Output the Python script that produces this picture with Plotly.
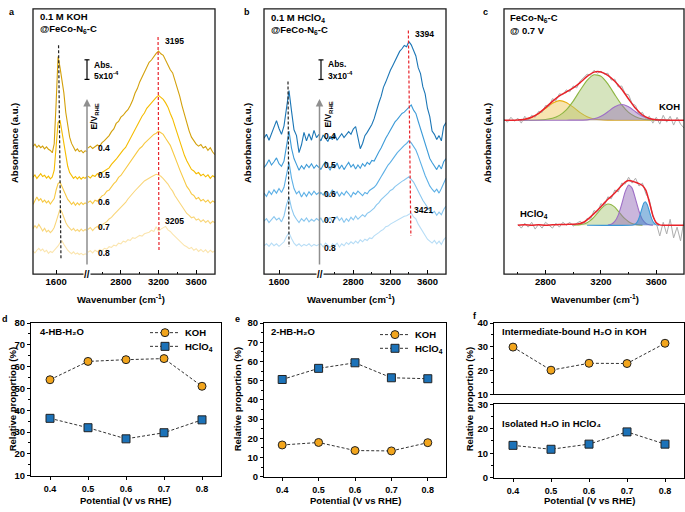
import plotly.graph_objects as go

W, H = 685, 512
FONT = "Liberation Sans, Arial, sans-serif"


def px(x):
    return x / W


def py(y):
    return 1 - y / H


# ------------------------------------------------------------------ data
POTENTIAL_LABELS = ["0.4", "0.5", "0.6", "0.7", "0.8"]

# panel a : 0.1 M KOH (absorbance, units of 1e-4, baseline removed)
A_LEFT_WN = list(range(1360, 1921, 20))
A_RIGHT_WN = list(range(2450, 3801, 25))
A_LEFT = {
    "0.4": [0.8, 1.4, 0.6, 1.1, 0.5, 0.9, 0.2, 0.7, 0.1, -0.2, -0.8, 1.5, 12.0, 23.8, 21.0, 17.5, 14.5, 9.5, 5.8, 3.2, 1.6, 0.6, -0.3, 0.2, -0.5, -0.2, -0.8, -0.3, -0.5],
    "0.5": [0.0, 0.6, -0.3, 0.4, 0.9, 0.2, 0.5, -0.2, 0.3, -0.4, 0.1, 1.8, 8.5, 14.0, 14.6, 11.5, 8.2, 5.2, 2.8, 1.2, 0.4, -0.3, 0.2, -0.4, 0.1, -0.5, 0.0, -0.3, 0.2],
    "0.6": [-0.3, 0.8, 1.6, 0.7, 1.2, 0.3, 0.8, 0.1, 0.6, -0.2, 0.4, 1.2, 3.4, 5.0, 5.4, 4.3, 3.2, 2.0, 1.0, 0.4, -0.3, 0.3, -0.5, 0.1, -0.4, 0.2, -0.3, 0.1, -0.2],
    "0.7": [0.2, 1.0, 0.4, 1.3, 0.5, -0.4, 0.3, -0.6, -0.2, -0.8, -0.3, 0.5, 2.0, 3.8, 5.2, 4.4, 2.9, 1.8, 0.9, 0.4, -0.2, 0.3, -0.4, 0.0, -0.5, 0.1, -0.4, 0.0, -0.3],
    "0.8": [0.3, -0.2, 0.5, 1.0, 0.4, 0.8, 0.1, 0.5, -0.3, 0.2, -0.1, 0.4, 0.9, 1.6, 2.4, 2.9, 2.0, 1.2, 0.5, 0.0, -0.4, 0.1, -0.5, -0.2, -0.6, -0.3, -0.7, -0.4, -0.6],
}
A_RIGHT = {
    "0.4": [0.4, 0.9, 0.3, 0.8, 1.2, 0.9, 1.8, 2.3, 3.0, 3.6, 4.6, 5.3, 6.7, 7.2, 8.3, 8.8, 9.6, 10.2, 11.3, 12.6,
            14.4, 15.6, 17.3, 18.5, 19.6, 21.0, 22.3, 22.9, 23.8, 24.6, 25.2, 24.5, 24.1, 22.8, 21.9, 20.4, 19.6, 17.8, 16.1, 13.7,
            11.2, 9.0, 6.7, 4.8, 3.2, 2.3, 1.4, 0.9, 1.3, 0.4, 0.8, -0.2, 0.5, -0.6, -1.3],
    "0.5": [0.3, -0.2, 0.5, 0.2, 0.9, 0.6, 1.2, 1.6, 2.0, 2.4, 3.3, 3.9, 4.6, 5.4, 6.3, 7.0, 7.6, 8.7, 9.8, 11.0,
            12.1, 13.3, 14.6, 15.6, 16.4, 17.6, 18.3, 19.1, 19.6, 20.4, 20.9, 20.3, 19.9, 19.0, 17.9, 16.3, 14.9, 13.0, 11.1, 9.2,
            7.4, 5.6, 4.2, 3.1, 2.0, 1.6, 0.9, 1.2, 0.4, 0.8, 0.1, 0.6, -0.3, 0.4, 0.0],
    "0.6": [0.2, 0.6, -0.1, 0.8, 0.5, 1.3, 1.9, 2.2, 3.1, 3.4, 4.3, 5.0, 5.6, 6.6, 7.1, 8.0, 8.9, 9.6, 10.8, 11.5,
            12.3, 13.2, 14.0, 14.5, 15.3, 15.9, 16.6, 17.0, 17.6, 17.9, 18.4, 18.0, 17.6, 16.6, 15.7, 14.8, 13.3, 11.9, 10.2, 8.6,
            7.0, 5.7, 4.3, 3.5, 2.4, 2.0, 1.1, 1.5, 0.6, 1.0, 0.3, 0.8, 0.0, 0.6, 0.2],
    "0.7": [0.0, 0.5, -0.3, 0.4, 0.8, 0.3, 1.2, 1.6, 2.0, 2.7, 3.1, 3.8, 4.4, 4.9, 5.7, 6.3, 6.9, 7.8, 8.4, 9.2,
            9.9, 10.6, 11.3, 11.8, 12.4, 12.8, 13.3, 13.5, 13.8, 14.1, 13.9, 13.6, 13.0, 12.3, 11.6, 10.6, 9.8, 8.6, 7.7, 6.5,
            5.6, 5.0, 4.1, 3.6, 3.0, 3.2, 2.4, 2.7, 2.0, 2.5, 1.8, 2.3, 1.5, 2.1, 1.7],
    "0.8": [0.0, 0.4, -0.2, 0.5, 0.1, 0.7, 0.4, 1.0, 0.8, 1.4, 1.2, 1.8, 1.6, 2.3, 2.1, 2.8, 2.6, 3.2, 3.0, 3.7,
            3.5, 4.0, 4.3, 4.1, 4.7, 4.9, 5.1, 5.6, 5.3, 6.5, 5.4, 5.9, 6.2, 6.6, 5.7, 5.3, 4.6, 4.0, 3.6, 2.8,
            2.4, 1.7, 1.4, 0.9, 1.2, 0.5, 0.9, 0.2, 0.7, 0.1, 0.6, -0.1, 0.5, 0.0, 0.4],
}

# panel b : 0.1 M HClO4 (absorbance, units of 1e-4, baseline removed)
B_LEFT_WN = list(range(1450, 2001, 25))
B_RIGHT_WN = list(range(2425, 3801, 25))
B_LEFT = {
    "0.4": [0.0, 0.6, -0.3, 0.8, 1.6, 2.7, 1.5, 0.6, 1.9, 5.0, 7.3, 4.2, 1.3, 0.4, -2.2, -1.0, 0.9, -0.4, 0.7, -0.3, 1.2, 0.1, 0.6],
    "0.5": [0.0, 0.5, 1.2, 0.4, 0.9, 1.5, 0.6, 0.2, 1.0, 3.6, 5.6, 3.0, 1.4, 0.5, -0.4, 0.3, -0.2, 0.5, 0.0, 0.6, -0.1, 0.4, 0.0],
    "0.6": [0.3, -0.2, 0.6, 0.1, 0.8, 0.3, 1.0, 0.4, 1.2, 3.4, 5.0, 2.6, 1.0, 0.2, 0.6, -0.3, 0.4, -0.2, 0.5, 0.0, 0.6, 0.1, 0.4],
    "0.7": [0.0, 0.4, -0.2, 0.3, 0.7, 0.2, 0.5, -0.1, 0.8, 2.5, 3.7, 2.0, 0.9, 0.3, -0.2, 0.4, 0.0, 0.5, -0.1, 0.3, 0.0, 0.4, 0.1],
    "0.8": [0.0, 0.3, -0.1, 0.4, 0.0, 0.3, -0.1, 0.2, 0.6, 1.4, 2.0, 1.1, 0.4, 0.0, 0.3, -0.1, 0.2, 0.0, 0.3, -0.1, 0.2, 0.0, 0.2],
}
B_RIGHT = {
    "0.4": [0.2, -0.4, 0.5, 0.0, -0.5, 0.3, -0.2, 0.6, -0.3, 0.2, 0.7, 0.1, 0.5, 1.0, 0.6, 1.4, 1.8, 0.3, -1.6, -0.8,
            0.4, 0.9, 1.5, 2.1, 3.0, 4.3, 5.4, 6.4, 7.8, 8.6, 9.6, 10.4, 11.1, 11.9, 12.6, 13.3, 13.7, 14.2, 14.0, 14.8,
            14.3, 13.4, 12.6, 10.8, 9.9, 7.9, 6.8, 4.6, 3.3, 1.1, 0.6, -0.2, 0.4, -0.4, 1.8, 2.4],
    "0.5": [0.3, -0.3, 0.4, 0.9, 0.2, -0.4, 0.5, 0.0, 0.7, -0.2, 0.4, -0.3, 0.3, 0.8, 0.1, 0.5, -0.2, 0.4, -0.1, 0.6,
            0.2, 0.8, 0.5, 1.1, 1.0, 1.8, 2.4, 3.0, 3.9, 4.5, 5.1, 5.8, 6.3, 7.0, 7.4, 7.9, 8.3, 8.5, 8.9, 9.2,
            9.6, 8.8, 8.3, 7.1, 6.0, 4.9, 3.6, 2.5, 1.4, 0.8, 0.2, -0.3, 0.4, -0.2, 0.9, 1.4],
    "0.6": [-0.2, 0.4, 0.0, 0.6, -0.3, 0.3, 0.8, 0.1, 0.5, -0.2, 0.4, 0.0, 0.6, 0.2, -0.3, 0.4, 0.1, 0.6, 0.2, -0.1,
            0.4, 0.2, 0.7, 0.9, 1.2, 1.6, 2.3, 2.8, 3.4, 4.1, 4.6, 5.0, 5.6, 6.0, 6.5, 6.9, 7.3, 7.6, 7.9, 8.3,
            8.0, 7.5, 6.9, 6.0, 4.9, 4.1, 3.0, 2.2, 1.4, 0.9, 0.5, 0.9, 0.3, 1.0, 1.8, 2.6],
    "0.7": [0.0, 0.5, -0.2, 0.4, 0.0, 0.6, -0.1, 0.3, 0.7, 0.1, 0.5, -0.2, 0.4, 0.0, 0.6, 0.2, 0.8, 0.3, 0.6, 1.0,
            0.7, 1.2, 1.4, 1.7, 2.0, 2.5, 2.8, 3.3, 3.6, 4.0, 4.3, 4.7, 4.9, 5.3, 5.6, 5.8, 6.1, 6.3, 6.6, 6.8,
            6.4, 6.0, 5.3, 4.7, 3.9, 3.2, 2.6, 2.0, 1.6, 1.2, 1.5, 0.9, 1.4, 1.0, 1.8, 2.3],
    "0.8": [0.0, 0.3, -0.2, 0.4, 0.1, -0.3, 0.3, 0.0, 0.4, -0.2, 0.3, 0.0, 0.5, 0.2, 0.6, 0.3, 0.7, 0.4, 0.9, 0.6,
            1.0, 0.8, 1.2, 1.1, 1.5, 1.7, 2.0, 2.3, 2.5, 2.9, 3.0, 3.3, 3.5, 3.8, 3.9, 4.2, 4.3, 4.5, 4.6, 4.8,
            5.0, 4.4, 4.1, 3.3, 2.7, 2.0, 1.5, 1.0, 0.7, 0.4, 0.8, 0.3, 0.7, 0.2, 0.9, 1.3],
}

# panel c : peak fitting at 0.7 V (arbitrary units)
C_KOH_COMP_WN = list(range(2600, 3701, 50))
C_KOH_YELLOW = [0.03, 0.10, 0.30, 0.67, 1.21, 1.74, 2.00, 1.82, 1.33, 0.77, 0.36, 0.13, 0.04, 0.01, 0, 0, 0, 0, 0, 0, 0, 0, 0]
C_KOH_GREEN = [0, 0, 0, 0.02, 0.07, 0.19, 0.49, 1.06, 1.95, 3.06, 4.08, 4.64, 4.49, 3.71, 2.61, 1.56, 0.80, 0.35, 0.13, 0.04, 0.01, 0, 0]
C_KOH_PURPLE = [0, 0, 0, 0, 0, 0, 0, 0, 0.01, 0.01, 0.03, 0.14, 0.40, 0.86, 1.37, 1.60, 1.37, 0.86, 0.40, 0.14, 0.03, 0.01, 0]
C_KOH_FIT_WN = list(range(2500, 3801, 50))
C_KOH_FIT = [0, 0, 0.03, 0.10, 0.30, 0.69, 1.28, 1.93, 2.49, 2.88, 3.29, 3.84, 4.47, 4.91, 4.93, 4.58, 3.98, 3.16, 2.17, 1.21,
             0.53, 0.18, 0.04, 0.01, 0, 0, 0]
C_KOH_RAW_WN = list(range(2500, 3801, 25))
C_KOH_RAW = [0.1, -0.2, 0.3, -0.1, 0.2, -0.3, 0.4, 0.0, 0.5, 0.3, 0.9, 0.8, 1.5, 1.4, 2.2, 2.0, 2.7, 2.6, 3.1, 2.9,
             3.5, 3.3, 4.0, 4.3, 4.7, 4.6, 5.1, 4.8, 5.0, 4.7, 4.8, 4.1, 4.2, 3.4, 3.5, 2.7, 2.6, 1.7, 1.5, 0.6,
             0.8, 0.1, 0.4, -0.3, 0.3, -0.4, 0.5, -0.2, 0.4, -0.5, 0.3, -0.4, -0.8]

C_H_GREEN_WN = list(range(3000, 3501, 25))
C_H_GREEN = [0.01, 0.02, 0.06, 0.13, 0.26, 0.49, 0.82, 1.23, 1.66, 2.00, 2.16, 2.10, 1.84, 1.44, 1.01, 0.64, 0.36, 0.18, 0.08, 0.03, 0.01]
C_H_PURPLE_WN = list(range(3250, 3576, 25))
C_H_PURPLE = [0.02, 0.10, 0.38, 1.03, 2.14, 3.40, 4.11, 3.79, 2.66, 1.43, 0.58, 0.18, 0.04, 0.01]
C_H_BLUE_WN = [3100, 3430, 3450, 3465, 3480, 3495, 3510, 3520, 3535, 3550, 3565, 3580, 3600, 3620]
C_H_BLUE = [0, 0.02, 0.13, 0.40, 0.93, 1.65, 2.26, 2.40, 2.10, 1.41, 0.72, 0.28, 0.05, 0.0]
C_H_FIT_WN = [2600, 2650, 2700, 2750, 2800, 2850, 2900, 2950, 3000, 3050, 3075, 3100, 3125, 3150, 3175, 3200, 3225, 3250,
              3275, 3300, 3325, 3350, 3375, 3400, 3425, 3450, 3475, 3500, 3525, 3550, 3575, 3600, 3625, 3650, 3700, 3750, 3800]
C_H_FIT = [0, 0.05, 0, 0.04, 0, 0.04, 0.06, 0.08, 0.10, 0.18, 0.30, 0.55, 0.85, 1.18, 1.52, 1.88, 2.28, 2.65,
           2.95, 3.28, 3.68, 4.05, 4.40, 4.57, 4.50, 4.38, 4.25, 4.05, 3.55, 2.35, 1.00, 0.25, 0.03, 0, 0, 0, 0]
C_H_RAW_WN = list(range(2600, 3801, 25))
C_H_RAW = [0.1, -0.3, 0.2, -0.2, 0.3, -0.4, 0.1, -0.3, 0.3, 0.0, -0.3, 0.2, -0.2, 0.3, 0.0, 0.3, -0.1, 0.2, 0.4, 0.1,
           0.7, 0.6, 1.5, 1.3, 2.2, 2.0, 2.9, 2.7, 3.6, 3.4, 4.3, 4.2, 4.9, 4.3, 4.8, 4.0, 4.3, 3.2, 2.6, 0.9,
           0.2, -1.1, 0.3, -0.9, 0.6, -1.3, -0.2, -1.6, 0.5]

# panels d-f : relative proportions (%)
POTENTIAL = [0.4, 0.5, 0.6, 0.7, 0.8]
D_KOH = [54.0, 62.4, 63.2, 63.7, 51.0]
D_HCLO4 = [36.3, 32.0, 26.9, 29.7, 35.6]
E_KOH = [16.5, 17.8, 13.6, 13.4, 17.7]
E_HCLO4 = [50.6, 56.4, 59.3, 51.5, 51.0]
F_KOH = [29.9, 20.2, 23.1, 23.0, 31.5]
F_HCLO4 = [13.2, 11.6, 13.7, 18.7, 13.7]

assert all(len(v) == len(A_LEFT_WN) for v in A_LEFT.values())
assert all(len(v) == len(A_RIGHT_WN) for v in A_RIGHT.values())
assert all(len(v) == len(B_LEFT_WN) for v in B_LEFT.values())
assert all(len(v) == len(B_RIGHT_WN) for v in B_RIGHT.values())

# ------------------------------------------------------------------ styles
A_COLORS = ["#D3A00A", "#F5BC00", "#F7C943", "#F9D67A", "#FBE5AE"]
B_COLORS = ["#1B76B6", "#3D9BD8", "#5DB0E6", "#8AC7EF", "#B7DDF6"]
A_OFFSET = [31.8, 24.75, 18.1, 11.4, 5.6]
B_OFFSET = [20.8, 16.3, 12.1, 8.1, 4.35]
ORANGE = "#F2A51C"
BLUE = "#1C72B8"

fig = go.Figure()


def spec(x, y, off, color, xa, ya, width=1.1):
    fig.add_trace(go.Scatter(x=x, y=[v + off for v in y], mode="lines",
                             line=dict(color=color, width=width),
                             xaxis=xa, yaxis=ya, showlegend=False, hoverinfo="skip"))


for i in range(4, -1, -1):
    p = POTENTIAL_LABELS[i]
    spec(A_LEFT_WN, A_LEFT[p], A_OFFSET[i], A_COLORS[i], "x", "y")
    spec(A_RIGHT_WN, A_RIGHT[p], A_OFFSET[i], A_COLORS[i], "x2", "y")
    spec(B_LEFT_WN, B_LEFT[p], B_OFFSET[i], B_COLORS[i], "x3", "y2")
    spec(B_RIGHT_WN, B_RIGHT[p], B_OFFSET[i], B_COLORS[i], "x4", "y2")


def comp(x, y, line, fill, ya):
    fig.add_trace(go.Scatter(x=x, y=y, mode="lines", fill="tozeroy", fillcolor=fill,
                             line=dict(color=line, width=1.1, shape="spline", smoothing=0.6),
                             xaxis="x5", yaxis=ya, showlegend=False, hoverinfo="skip"))


comp(C_KOH_COMP_WN, C_KOH_YELLOW, "#E9AE12", "rgba(238,196,80,0.45)", "y3")
comp(C_KOH_COMP_WN, C_KOH_GREEN, "#8DB542", "rgba(165,195,110,0.45)", "y3")
comp(C_KOH_COMP_WN, C_KOH_PURPLE, "#9E6FC6", "rgba(150,110,185,0.45)", "y3")
fig.add_trace(go.Scatter(x=C_KOH_RAW_WN, y=C_KOH_RAW, mode="lines", line=dict(color="#ADADAD", width=1),
                         xaxis="x5", yaxis="y3", showlegend=False, hoverinfo="skip"))
fig.add_trace(go.Scatter(x=C_KOH_FIT_WN, y=C_KOH_FIT, mode="lines",
                         line=dict(color="#E8232A", width=1.5, shape="spline", smoothing=0.6),
                         xaxis="x5", yaxis="y3", showlegend=False, hoverinfo="skip"))

comp(C_H_GREEN_WN, C_H_GREEN, "#8DB542", "rgba(165,195,110,0.45)", "y4")
comp(C_H_PURPLE_WN, C_H_PURPLE, "#9E6FC6", "rgba(150,110,185,0.5)", "y4")
comp(C_H_BLUE_WN, C_H_BLUE, "#3A97D6", "rgba(60,135,200,0.55)", "y4")
fig.add_trace(go.Scatter(x=C_H_RAW_WN, y=C_H_RAW, mode="lines", line=dict(color="#ADADAD", width=1),
                         xaxis="x5", yaxis="y4", showlegend=False, hoverinfo="skip"))
fig.add_trace(go.Scatter(x=C_H_FIT_WN, y=C_H_FIT, mode="lines",
                         line=dict(color="#E8232A", width=1.5, shape="spline", smoothing=0.6),
                         xaxis="x5", yaxis="y4", showlegend=False, hoverinfo="skip"))


def pts(x, y, xa, ya, name, symbol, color, legend=None):
    fig.add_trace(go.Scatter(x=x, y=y, mode="lines+markers", name=name,
                             line=dict(color="#333333", width=1, dash="3px,2px"),
                             marker=dict(symbol=symbol, size=8, color=color, line=dict(color="#222222", width=1)),
                             xaxis=xa, yaxis=ya, showlegend=legend is not None,
                             legend=legend or "legend", hoverinfo="skip"))


pts(POTENTIAL, D_KOH, "x6", "y5", "KOH", "circle", ORANGE, "legend")
pts(POTENTIAL, D_HCLO4, "x6", "y5", "HClO<sub>4</sub>", "square", BLUE, "legend3")
pts(POTENTIAL, E_KOH, "x7", "y6", "KOH", "circle", ORANGE, "legend2")
pts(POTENTIAL, E_HCLO4, "x7", "y6", "HClO<sub>4</sub>", "square", BLUE, "legend4")
pts(POTENTIAL, F_KOH, "x8", "y7", "KOH", "circle", ORANGE)
pts(POTENTIAL, F_HCLO4, "x9", "y8", "HClO4", "square", BLUE)

# ------------------------------------------------------------------ axes
TICKFONT = dict(family=FONT, size=9.5, color="black", weight="bold")
XTICKFONT = dict(family=FONT, size=9, color="black", weight="bold")


def spec_x(l, r, rng, anchor, tickvals, minor_vals):
    return dict(domain=[px(l), px(r)], range=rng, anchor=anchor,
                tickmode="array", tickvals=tickvals, ticktext=[str(v) for v in tickvals],
                ticks="inside", ticklen=4, tickwidth=1, tickcolor="black",
                showline=False, showgrid=False, zeroline=False, tickfont=TICKFONT,
                minor=dict(tickmode="array", tickvals=minor_vals, ticks="inside", ticklen=2.5,
                           tickcolor="black", showgrid=False))


def hidden_y(rng, anchor, overlaying=None):
    d = dict(domain=[py(274), py(3)], range=rng, anchor=anchor, visible=False, showgrid=False, zeroline=False)
    if overlaying:
        d["overlaying"] = overlaying
    return d


def prop_x(l, r, anchor, labels=True):
    return dict(domain=[px(l), px(r)], range=[0.35, 0.85], anchor=anchor,
                tickmode="array", tickvals=POTENTIAL, ticktext=[f"{v:.1f}" for v in POTENTIAL],
                showticklabels=labels, ticks="outside" if labels else "", ticklen=3, tickwidth=1,
                ticklabelstandoff=1,
                tickcolor="black", showline=True, mirror=True, linecolor="black", linewidth=1.2,
                showgrid=False, zeroline=False, tickfont=XTICKFONT)


def prop_y(top, bot, rng, anchor, dtick=10):
    return dict(domain=[py(bot), py(top)], range=rng, anchor=anchor, dtick=dtick, tick0=0,
                ticks="outside", ticklen=3, tickwidth=1, tickcolor="black",
                showline=True, mirror=True, linecolor="black", linewidth=1.2,
                showgrid=False, zeroline=False, tickfont=TICKFONT,
                minor=dict(dtick=dtick / 2, ticks="outside", ticklen=2, tickcolor="black", showgrid=False))


def leg(x, ytop):
    return dict(x=px(x), y=py(ytop), xanchor="left", yanchor="top", bgcolor="rgba(0,0,0,0)",
                font=dict(family=FONT, size=9.5, color="black", weight="bold"), itemwidth=30,
                tracegroupgap=0)


fig.update_layout(
    width=W, height=H, autosize=False,
    margin=dict(l=0, r=0, t=0, b=0),
    paper_bgcolor="white", plot_bgcolor="rgba(0,0,0,0)",
    font=dict(family=FONT, color="black"),
    xaxis=spec_x(33, 87, [1360, 1920], "y", [1600], []),
    xaxis2=spec_x(87, 215, [2440, 3800], "y", [2800, 3200, 3600], [2600, 3000, 3400]),
    yaxis=hidden_y([0, 67.75], "x"),
    xaxis3=spec_x(264, 319, [1450, 2000], "y2", [1600], []),
    xaxis4=spec_x(319, 446, [2430, 3800], "y2", [2800, 3200, 3600], [2600, 3000, 3400]),
    yaxis2=hidden_y([0, 40.6], "x3"),
    xaxis5=spec_x(504, 684, [2500, 3800], "y3", [2800, 3200, 3600], [2600, 3000, 3400]),
    yaxis3=hidden_y([-15.73, 11.37], "x5"),
    yaxis4=hidden_y([-5.0, 22.1], "x5", overlaying="y3"),
    xaxis6=prop_x(31, 221, "y5"),
    yaxis5=prop_y(324, 480, [10, 80], "x6"),
    xaxis7=prop_x(264, 446, "y6"),
    yaxis6=prop_y(324, 481, [0, 80], "x7"),
    xaxis8=prop_x(494, 684, "y7", labels=False),
    yaxis7=prop_y(324, 397, [10, 40], "x8"),
    xaxis9=prop_x(494, 684, "y8"),
    yaxis8=prop_y(407, 482, [0, 30], "x9"),
    legend=leg(145, 319),
    legend3=leg(145, 333),
    legend2=leg(375, 321),
    legend4=leg(375, 335),
)

# ------------------------------------------------------------------ shapes
shapes = []
for l, r in ((33, 215), (264, 446), (504, 684)):
    shapes.append(dict(type="rect", xref="paper", yref="paper", x0=px(l), x1=px(r), y0=py(274), y1=py(3),
                       line=dict(color="#1a1a1a", width=1.3), fillcolor="rgba(0,0,0,0)", layer="above"))

# marker lines for peak positions (data coordinates)
shapes.append(dict(type="line", xref="x", yref="y", x0=1625, y0=58.5, x1=1650, y1=4.0,
                   line=dict(color="#222222", width=1.2, dash="3px,2px")))
shapes.append(dict(type="line", xref="x2", yref="y", x0=3195, y0=60.6, x1=3205, y1=6.0,
                   line=dict(color="#E8232A", width=1.2, dash="3px,2px")))
shapes.append(dict(type="line", xref="x3", yref="y2", x0=1690, y0=29.5, x1=1700, y1=4.2,
                   line=dict(color="#222222", width=1.2, dash="3px,2px")))
shapes.append(dict(type="line", xref="x4", yref="y2", x0=3394, y0=37.3, x1=3421, y1=5.85,
                   line=dict(color="#E8232A", width=1.2, dash="3px,2px")))

# scale bars (5e-4 and 3e-4 absorbance)
for xb, yref, y0, y1 in ((87, "y", 49.75, 54.75), (321, "y2", 29.8, 32.8)):
    shapes.append(dict(type="line", xref="paper", yref=yref, x0=px(xb), x1=px(xb), y0=y0, y1=y1,
                       line=dict(color="black", width=1.2)))
    for yy in (y0, y1):
        shapes.append(dict(type="line", xref="paper", yref=yref, x0=px(xb - 2.5), x1=px(xb + 2.5), y0=yy, y1=yy,
                           line=dict(color="black", width=1.2)))
fig.update_layout(shapes=shapes)

# ------------------------------------------------------------------ text
ann = []


def txt(x, y, s, size=9.5, xanchor="left", angle=0, color="black", bold=True, bg=None):
    a = dict(x=px(x), y=py(y), xref="paper", yref="paper", text=s, showarrow=False,
             font=dict(family=FONT, size=size, color=color, weight="bold" if bold else "normal"),
             xanchor=xanchor, yanchor="middle", textangle=angle)
    if bg:
        a["bgcolor"] = bg
        a["borderpad"] = 0
    ann.append(a)


# panel letters
for lx, ly, s in ((12, 6, "a"), (247, 6, "b"), (486, 6, "c"), (5, 320, "d"), (237, 320, "e"), (475, 317, "f")):
    txt(lx, ly, s, size=9, xanchor="center")

# headers
txt(38, 11, "0.1 M KOH")
txt(38, 24, "@FeCo-N<sub>6</sub>-C")
txt(269, 12, "0.1 M HClO<sub>4</sub>")
txt(269, 25, "@FeCo-N<sub>6</sub>-C")
txt(508, 12, "FeCo-N<sub>6</sub>-C")
txt(508, 25, "@ 0.7 V")

# scale bar labels
txt(92, 60, "Abs.", size=8.5)
txt(92, 71, "5x10<sup>-4</sup>", size=8.5)
txt(326, 59, "Abs.", size=8.5)
txt(326, 71, "3x10<sup>-4</sup>", size=8.5)

# potential arrows
for xa in (87, 319.5):
    ann.append(dict(x=px(xa), y=py(95), xref="paper", yref="paper", ax=0, ay=167, axref="pixel", ayref="pixel",
                    showarrow=True, arrowhead=2, arrowsize=1, arrowwidth=1.5, arrowcolor="#8f8f8f", text=""))
txt(95, 113, "E/V<sub>RHE</sub>", size=8.5, xanchor="center", angle=-90)
txt(329, 111, "E/V<sub>RHE</sub>", size=8.5, xanchor="center", angle=-90)

for lbl, ya, yb in zip(POTENTIAL_LABELS, (145, 173, 200, 226, 252), (133, 163, 192, 219, 247)):
    txt(96, ya, lbl, size=8.5)
    txt(322, yb, lbl, size=8.5)

# peak labels
txt(163, 36, "3195", size=8.5)
txt(163, 220, "3205", size=8.5)
txt(413, 29, "3394", size=8.5)
txt(412, 208, "3421", size=8.5)
txt(657, 103, "KOH", size=9.5)
txt(518, 213, "HClO<sub>4</sub>", size=9.5)

# axis break marks
txt(87, 274, "//", size=10, xanchor="center", bg="white")
txt(319.5, 274, "//", size=10, xanchor="center", bg="white")

# axis titles
for xc in (15, 248, 488):
    txt(xc, 140, "Absorbance (a.u.)", size=9.5, xanchor="center", angle=-90)
for xc in (121, 351, 595):
    txt(xc, 299, "Wavenumber (cm<sup>-1</sup>)", size=9.5, xanchor="center")
for xc in (12, 237, 469):
    txt(xc, 402, "Relative proportion (%)", size=9.5, xanchor="center", angle=-90)
for xc in (126, 355, 589):
    txt(xc, 505, "Potential (V vs RHE)", size=9.5, xanchor="center")

# in-panel labels for d-f
txt(38, 333, "4-HB-H₂O")
txt(269, 333, "2-HB-H₂O")
txt(500, 333, "Intermediate-bound H₂O in KOH")
txt(500, 427, "Isolated H₂O in HClO₄")

fig.update_layout(annotations=ann)
fig.write_html(
    "out.html",
    config={"displayModeBar": False},
    post_script="document.body.style.margin='0px';document.body.style.padding='0px';"
                "document.documentElement.style.overflow='hidden';",
)
